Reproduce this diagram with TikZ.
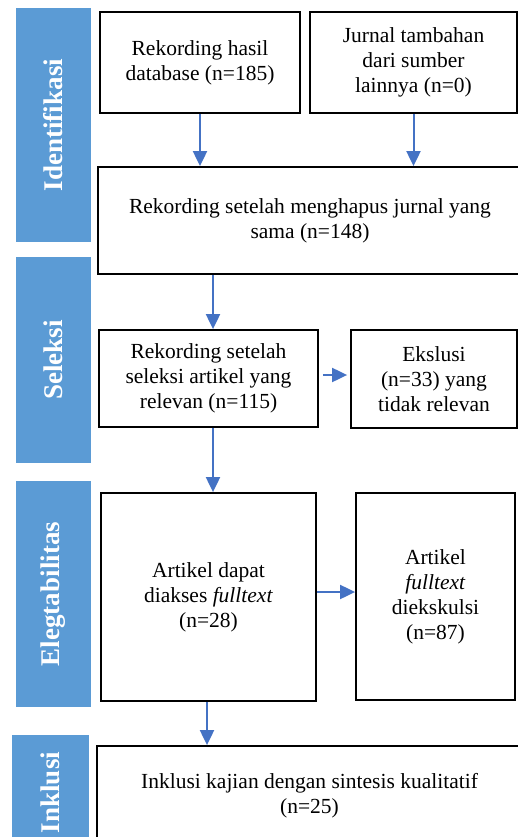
\documentclass[tikz,border=0pt]{standalone}
\usepackage{fontspec}
\setmainfont{Liberation Serif}
\usetikzlibrary{arrows.meta}
\definecolor{barblue}{HTML}{5B9BD5}
\definecolor{arrblue}{HTML}{4472C4}
\tikzset{
  box/.style={draw=black, line width=1.8pt, align=center, inner sep=0pt,
    font=\fontsize{21.5}{25}\selectfont},
  bar/.style={fill=barblue, rotate=90, inner sep=0pt, text=white,
    font=\fontsize{27}{30}\selectfont\bfseries},
  arr/.style={->, draw=arrblue, line width=2pt}
}
\begin{document}
\begin{tikzpicture}[x=1pt, y=-1pt, >={Triangle[width=14pt,length=15pt]}]
\useasboundingbox (0,0) rectangle (518,837);

% fase
\node[bar, minimum width=234pt, minimum height=75pt] (idf) at (53.5,125) {Identifikasi};
\node[bar, minimum width=206pt, minimum height=75pt] (slk) at (53.5,360) {Seleksi};
\node[bar, minimum width=226pt, minimum height=75pt] (elg) at (53.5,594) {Elegtabilitas};
\node[bar, minimum width=115pt, minimum height=77pt] (inkl) at (50.5,792.5) {Inklusi};

% kotak
\node[box, minimum width=200pt, minimum height=101pt] (rek) at (200,62.5) {Rekording hasil\\database (n=185)};
\node[box, minimum width=207pt, minimum height=101pt] (jur) at (413.5,62.5) {Jurnal tambahan\\dari sumber\\lainnya (n=0)};
\node[box, minimum width=424pt, minimum height=107pt] (hap) at (310,220.5) {Rekording setelah menghapus jurnal yang\\sama (n=148)};
\node[box, minimum width=219pt, minimum height=97pt] (sel) at (208.5,378.5) {Rekording setelah\\seleksi artikel yang\\relevan (n=115)};
\node[box, minimum width=166pt, minimum height=98pt] (eks) at (434,379) {Ekslusi\\(n=33) yang\\tidak relevan};
\node[box, minimum width=215pt, minimum height=208pt] (ful) at (208.5,597) {Artikel dapat\\diakses \textit{fulltext}\\(n=28)};
\node[box, minimum width=159pt, minimum height=207pt] (dik) at (435.5,596.5) {Artikel\\\textit{fulltext}\\diekskulsi\\(n=87)};
\node[box, minimum width=425pt, minimum height=99pt] (ink) at (309.5,795.5) {Inklusi kajian dengan sintesis kualitatif\\(n=25)};

% panah
\draw[arr] (rek.south) -- (rek.south |- hap.north);
\draw[arr] (jur.south) -- (jur.south |- hap.north);
\draw[arr] ([xshift=4.5pt]sel.north |- hap.south) -- ([xshift=4.5pt]sel.north);
\draw[arr, shorten <=4pt, shorten >=3pt] ([yshift=3.5pt]sel.east) -- ([yshift=3.5pt]sel.east -| eks.west);
\draw[arr] ([xshift=4.5pt]sel.south) -- ([xshift=4.5pt]sel.south |- ful.north);
\draw[arr] ([yshift=5pt]ful.east) -- ([yshift=5pt]ful.east -| dik.west);
\draw[arr] ([xshift=-1.5pt]ful.south) -- ([xshift=-1.5pt]ful.south |- ink.north);
\end{tikzpicture}
\end{document}
